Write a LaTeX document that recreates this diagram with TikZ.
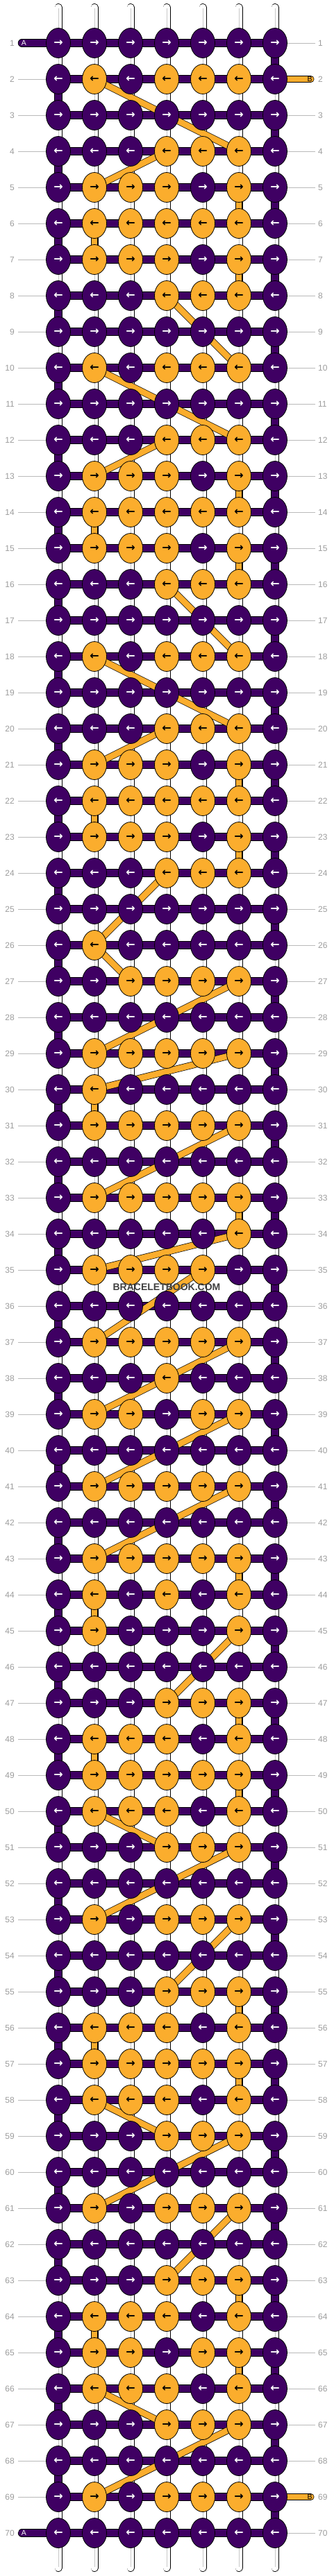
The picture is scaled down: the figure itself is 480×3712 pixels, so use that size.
\documentclass[tikz,border=0pt]{standalone}
\usepackage{fontspec}
\setmainfont{Liberation Sans}
\newfontfamily\arrowfont{DejaVu Sans}
\usetikzlibrary{shapes.geometric}
\definecolor{knotpurple}{HTML}{3F0063}
\definecolor{knotorange}{HTML}{FBAD2D}
\definecolor{rowgray}{HTML}{9C9C9C}
\pgfdeclarelayer{strings}
\pgfdeclarelayer{bars}
\pgfsetlayers{strings,bars,main}

\begin{document}
\begin{tikzpicture}[x=1pt, y=-1pt]
   \tikzstyle{knot0}=[ellipse, draw, line width=0.8pt, fill=knotpurple, text=white, minimum width=35pt, minimum height=43pt, inner sep=0pt, font=\arrowfont\bfseries\fontsize{16}{16}\selectfont]
   \tikzstyle{knot1}=[knot0, fill=knotorange, text=black]
   \tikzstyle{warp}=[line width=0.8pt, double=white, double distance=9.4pt, line cap=round]
   \tikzstyle{barA}=[line width=0.7pt, double=knotpurple, double distance=10pt]
   \tikzstyle{barB}=[line width=0.7pt, double=knotorange, double distance=8.6pt]
   \tikzstyle{rownum}=[inner sep=0pt, text=rowgray, font=\fontsize{12}{12}\selectfont]
   \tikzstyle{rowline}=[rowgray!70, line width=0.8pt]
   \useasboundingbox (0,0) rectangle (480,3712);

   % knot colours, one row per line (0 = A purple, 1 = B orange)
   \def\pattern{
      {0,0,0,0,0,0,0},{0,1,0,1,1,1,0},{0,0,0,0,0,0,0},{0,0,0,1,1,1,0},{0,1,1,1,0,1,0},
      {0,1,1,1,1,1,0},{0,1,1,1,0,1,0},{0,0,0,1,1,1,0},{0,0,0,0,0,0,0},{0,1,0,1,1,1,0},
      {0,0,0,0,0,0,0},{0,0,0,1,1,1,0},{0,1,1,1,0,1,0},{0,1,1,1,1,1,0},{0,1,1,1,0,1,0},
      {0,0,0,1,1,1,0},{0,0,0,0,0,0,0},{0,1,0,1,1,1,0},{0,0,0,0,0,0,0},{0,0,0,1,1,1,0},
      {0,1,1,1,0,1,0},{0,1,1,1,1,1,0},{0,1,1,1,0,1,0},{0,0,0,1,1,1,0},{0,0,0,0,0,0,0},
      {0,1,0,0,0,0,0},{0,0,1,1,1,1,0},{0,0,0,0,0,0,0},{0,1,1,1,1,1,0},{0,1,0,0,0,0,0},
      {0,1,1,1,1,1,0},{0,0,0,0,0,0,0},{0,1,1,1,1,1,0},{0,0,0,0,0,1,0},{0,1,1,1,1,0,0},
      {0,0,0,0,0,0,0},{0,1,1,1,1,1,0},{0,0,0,1,0,0,0},{0,1,1,0,1,1,0},{0,0,0,0,0,0,0},
      {0,1,1,1,1,1,0},{0,0,0,0,0,0,0},{0,1,1,1,1,1,0},{0,1,0,1,0,1,0},{0,1,0,0,0,1,0},
      {0,0,0,0,0,0,0},{0,0,0,1,1,1,0},{0,1,1,1,0,1,0},{0,1,1,1,1,1,0},{0,1,1,1,0,1,0},
      {0,0,0,1,1,1,0},{0,0,0,0,0,0,0},{0,1,0,1,1,1,0},{0,0,0,0,0,0,0},{0,0,0,1,1,1,0},
      {0,1,1,1,0,1,0},{0,1,1,1,1,1,0},{0,1,1,1,0,1,0},{0,0,0,1,1,1,0},{0,0,0,0,0,0,0},
      {0,1,0,1,1,1,0},{0,0,0,0,0,0,0},{0,0,0,1,1,1,0},{0,1,1,1,0,1,0},{0,1,1,0,1,1,0},
      {0,1,1,1,0,1,0},{0,0,0,1,1,1,0},{0,0,0,0,0,0,0},{0,1,0,1,1,1,0},{0,0,0,0,0,0,0}}

   % knots
   \foreach \pat [count=\row] in \pattern {
      \foreach \k [count=\col] in \pat {
         \node[knot\k] (k\row-\col) at ({32+52*\col},{10+52*\row}) {\ifodd\row\relax →\else ←\fi};
      }
   }

   % row numbers
   \foreach \row in {1,...,70} {
      \coordinate (ll\row) at (26,{10+52*\row});
      \coordinate (lr\row) at (454,{10+52*\row});
      \node[rownum, anchor=east] (nl\row) at (21,{10+52*\row}) {\row};
      \node[rownum, anchor=west] (nr\row) at (458,{10+52*\row}) {\row};
   }

   % loose ends of A and B
   \coordinate (endA1) at (31.5,62);
   \coordinate (endA70) at (31.5,3650);
   \coordinate (endB2) at (447.5,114);
   \coordinate (endB69) at (447.5,3598);

   \begin{pgfonlayer}{strings}
      % warp strings
      \foreach \col in {1,...,7} {
         \coordinate (top\col) at ({32+52*\col},10.5);
         \coordinate (bot\col) at ({32+52*\col},3700.5);
         \draw[warp] (top\col) -- (bot\col);
         \draw[rowgray!55, line width=0.7pt, shorten <=2pt, shorten >=2pt] (top\col) -- (bot\col);
      }
      % guide lines
      \foreach \row in {2,...,69} \draw[rowline] (ll\row) -- (k\row-1.center);
      \foreach \row in {1,3,4,...,68,70} \draw[rowline] (lr\row) -- (k\row-7.center);
   \end{pgfonlayer}

   \begin{pgfonlayer}{bars}
      % A string: rows and turns
      \foreach \row in {1,...,70} \draw[barA] (k\row-1.center) -- (k\row-7.center);
      \foreach \row [evaluate=\row as \nxt using int(\row+1)] in {1,...,69} {
         \ifodd\row\relax
            \draw[barA] (k\row-7.center) -- (k\nxt-7.center);
         \else
            \draw[barA] (k\row-1.center) -- (k\nxt-1.center);
         \fi
      }
      \draw[barA, line cap=round] (k1-1.center) -- (endA1);
      \draw[barA, line cap=round] (k70-1.center) -- (endA70);
      % B string between rows
      \draw[barB, line cap=round] (k2-7.center) -- (endB2);
      \draw[barB, line cap=round] (k69-7.center) -- (endB69);
      \foreach \ra/\ca/\rb/\cb in {2/2/4/6, 4/4/5/2, 5/6/6/6, 6/2/7/2, 7/6/8/6, 8/4/10/6,
            10/2/12/6, 12/4/13/2, 13/6/14/6, 14/2/15/2, 15/6/16/6, 16/4/18/6,
            18/2/20/6, 20/4/21/2, 21/6/22/6, 22/2/23/2, 23/6/24/6, 24/4/26/2,
            26/2/27/3, 27/6/29/2, 29/6/30/2, 30/2/31/2, 31/6/33/2, 33/6/34/6,
            34/6/35/2, 35/5/37/2, 37/6/38/4, 38/4/39/2, 39/6/41/2, 41/6/43/2,
            43/6/44/6, 44/2/45/2, 45/6/47/4, 47/6/48/6, 48/2/49/2, 49/6/50/6,
            50/2/51/4, 51/6/53/2, 53/6/55/4, 55/6/56/6, 56/2/57/2, 57/6/58/6,
            58/2/59/4, 59/6/61/2, 61/6/63/4, 63/6/64/6, 64/2/65/2, 65/6/66/6,
            66/2/67/4, 67/6/69/2}
         \draw[barB] (k\ra-\ca.center) -- (k\rb-\cb.center);
   \end{pgfonlayer}

   \node[text=white, font=\fontsize{10.5}{10.5}\selectfont] (labA1) at (34.5,62) {A};
   \node[text=white, font=\fontsize{10.5}{10.5}\selectfont] (labA70) at (34.5,3650) {A};
   \node[text=black, font=\fontsize{10.5}{10.5}\selectfont] (labB2) at (446,114) {B};
   \node[text=black, font=\fontsize{10.5}{10.5}\selectfont] (labB69) at (446,3598) {B};

   \node[text=black!75, font=\bfseries\fontsize{14}{14}\selectfont] (mark) at (240,1855) {BRACELETBOOK.COM};
\end{tikzpicture}
\end{document}
